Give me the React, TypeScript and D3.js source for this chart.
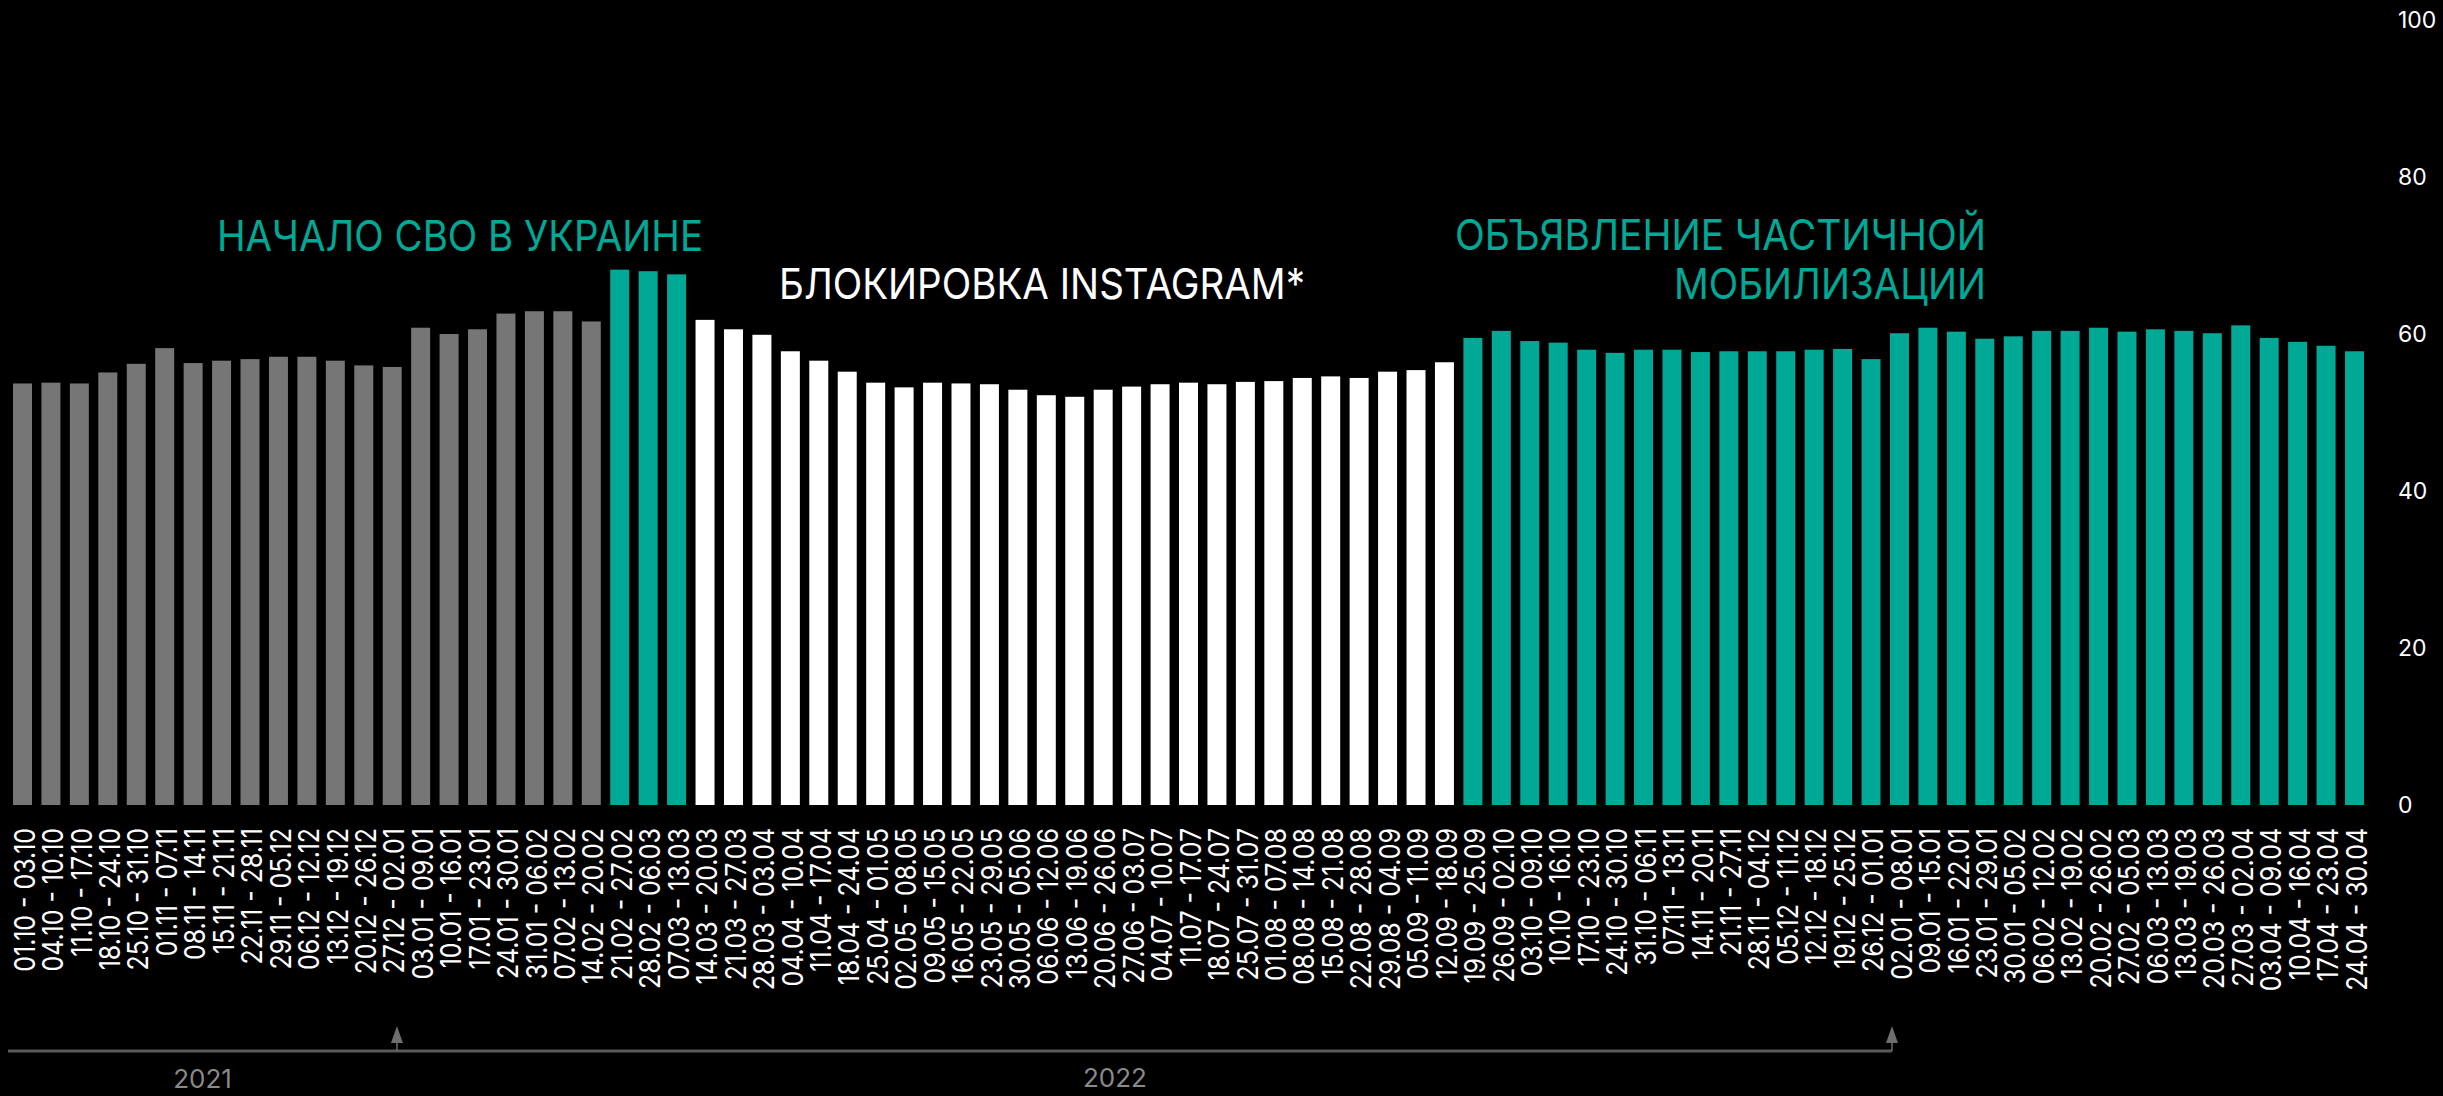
import React from "react";
import * as d3 from "d3";

const W = 2443;
const H = 1096;

const labels = [
  "01.10 - 03.10", "04.10 - 10.10", "11.10 - 17.10", "18.10 - 24.10", "25.10 - 31.10",
  "01.11 - 07.11", "08.11 - 14.11", "15.11 - 21.11", "22.11 - 28.11", "29.11 - 05.12",
  "06.12 - 12.12", "13.12 - 19.12", "20.12 - 26.12", "27.12 - 02.01", "03.01 - 09.01",
  "10.01 - 16.01", "17.01 - 23.01", "24.01 - 30.01", "31.01 - 06.02", "07.02 - 13.02",
  "14.02 - 20.02",
  "21.02 - 27.02", "28.02 - 06.03", "07.03 - 13.03",
  "14.03 - 20.03", "21.03 - 27.03", "28.03 - 03.04", "04.04 - 10.04", "11.04 - 17.04",
  "18.04 - 24.04", "25.04 - 01.05", "02.05 - 08.05", "09.05 - 15.05", "16.05 - 22.05",
  "23.05 - 29.05", "30.05 - 05.06", "06.06 - 12.06", "13.06 - 19.06", "20.06 - 26.06",
  "27.06 - 03.07", "04.07 - 10.07", "11.07 - 17.07", "18.07 - 24.07", "25.07 - 31.07",
  "01.08 - 07.08", "08.08 - 14.08", "15.08 - 21.08", "22.08 - 28.08", "29.08 - 04.09",
  "05.09 - 11.09", "12.09 - 18.09",
  "19.09 - 25.09", "26.09 - 02.10", "03.10 - 09.10", "10.10 - 16.10", "17.10 - 23.10",
  "24.10 - 30.10", "31.10 - 06.11", "07.11 - 13.11", "14.11 - 20.11", "21.11 - 27.11",
  "28.11 - 04.12", "05.12 - 11.12", "12.12 - 18.12", "19.12 - 25.12", "26.12 - 01.01",
  "02.01 - 08.01", "09.01 - 15.01", "16.01 - 22.01", "23.01 - 29.01", "30.01 - 05.02",
  "06.02 - 12.02", "13.02 - 19.02", "20.02 - 26.02", "27.02 - 05.03", "06.03 - 13.03",
  "13.03 - 19.03", "20.03 - 26.03", "27.03 - 02.04", "03.04 - 09.04", "10.04 - 16.04",
  "17.04 - 23.04", "24.04 - 30.04",
];

const values = [
  53.7, 53.8, 53.7, 55.1, 56.2, 58.2, 56.3, 56.6, 56.8, 57.1,
  57.1, 56.6, 56.0, 55.8, 60.8, 60.0, 60.6, 62.6, 62.9, 62.9,
  61.6,
  68.2, 68.0, 67.6,
  61.8, 60.6, 59.9, 57.8, 56.6, 55.2, 53.8, 53.2, 53.8, 53.7,
  53.6, 52.9, 52.2, 52.0, 52.9, 53.3, 53.6, 53.8, 53.6, 53.9,
  54.0, 54.4, 54.6, 54.4, 55.2, 55.4, 56.4,
  59.5, 60.4, 59.1, 58.9, 58.0, 57.6, 58.0, 58.0, 57.7, 57.8,
  57.8, 57.8, 58.0, 58.1, 56.8, 60.1, 60.8, 60.3, 59.4, 59.7,
  60.4, 60.4, 60.8, 60.3, 60.6, 60.4, 60.1, 61.1, 59.5, 59.0,
  58.5, 57.8,
];

// periods: first label of each coloured run
const periods = [
  { from: "01.10 - 03.10", color: "#767676" },
  { from: "21.02 - 27.02", color: "#00a896" },
  { from: "14.03 - 20.03", color: "#ffffff" },
  { from: "19.09 - 25.09", color: "#00a896" },
];

const yTicks = [0, 20, 40, 60, 80, 100];

const yearMarks = ["27.12 - 02.01", "02.01 - 08.01"];
const years = ["2021", "2022"];

const TEAL = "#00a896";

function colorFor(i: number) {
  let c = periods[0].color;
  periods.forEach((p) => {
    if (i >= labels.indexOf(p.from)) c = p.color;
  });
  return c;
}

export default function App() {
  const x = d3
    .scaleBand<number>()
    .domain(d3.range(labels.length))
    .range([13, 2364])
    .paddingInner(0.332)
    .paddingOuter(0);
  const y = d3.scaleLinear().domain([0, 100]).range([805, 20]);
  const bw = x.bandwidth();

  // year boundary arrows
  const mark1 = (x(labels.indexOf(yearMarks[0])) ?? 0) + bw * 0.75;
  const mark2 = (x(labels.indexOf(yearMarks[1])) ?? 0) + 2;
  const lineY = 1051;

  const font = "Inter, Roboto, sans-serif";

  return (
    <div style={{ width: W, height: H, background: "#000" }}>
      <style>{`body{margin:0;background:#000;}`}</style>
      <svg width={W} height={H} style={{ display: "block", background: "#000" }}>
        {/* bars */}
        {values.map((v, i) => (
          <rect
            key={i}
            x={x(i)}
            y={y(v)}
            width={bw}
            height={y(0) - y(v)}
            fill={colorFor(i)}
          />
        ))}

        {/* y axis on the right */}
        {yTicks.map((t) => (
          <text
            key={t}
            x={2398}
            y={y(t)}
            dominantBaseline="central"
            fill="#fff"
            fontFamily={font}
            fontSize={23}
          >
            {t}
          </text>
        ))}

        {/* category labels */}
        {labels.map((l, i) => (
          <text
            key={l}
            transform={`translate(${(x(i) ?? 0) + bw / 2 + 2},828) rotate(-90) scale(0.86,1)`}
            textAnchor="end"
            dominantBaseline="central"
            fill="#fff"
            fontFamily={font}
            fontSize={29}
          >
            {l}
          </text>
        ))}

        {/* annotations */}
        <text x={217} y={251} fill={TEAL} fontFamily={font} fontSize={43}
          textLength={486} lengthAdjust="spacingAndGlyphs">
          НАЧАЛО СВО В УКРАИНЕ
        </text>
        <text x={779} y={299} fill="#fff" fontFamily={font} fontSize={43}
          textLength={526} lengthAdjust="spacingAndGlyphs">
          БЛОКИРОВКА INSTAGRAM*
        </text>
        <text x={1455} y={250} fill={TEAL} fontFamily={font} fontSize={43}
          textLength={531} lengthAdjust="spacingAndGlyphs">
          ОБЪЯВЛЕНИЕ ЧАСТИЧНОЙ
        </text>
        <text x={1674} y={299} fill={TEAL} fontFamily={font} fontSize={43}
          textLength={312} lengthAdjust="spacingAndGlyphs">
          МОБИЛИЗАЦИИ
        </text>

        {/* year timeline */}
        <line x1={8} x2={mark2} y1={lineY} y2={lineY} stroke="#5a5a5a" strokeWidth={3} />
        {[mark1, mark2].map((m, i) => (
          <g key={i}>
            <line x1={m} x2={m} y1={lineY} y2={1038} stroke="#6e6e6e" strokeWidth={1.5} />
            <path d={`M${m},1026 L${m - 6},1043 L${m + 6},1043 Z`} fill="#6e6e6e" />
          </g>
        ))}
        <text x={(8 + mark1) / 2} y={1088} textAnchor="middle" fill="#8a8a8a"
          fontFamily={font} fontSize={26}>
          {years[0]}
        </text>
        <text x={1115} y={1087} textAnchor="middle" fill="#8a8a8a"
          fontFamily={font} fontSize={26}>
          {years[1]}
        </text>
      </svg>
    </div>
  );
}
